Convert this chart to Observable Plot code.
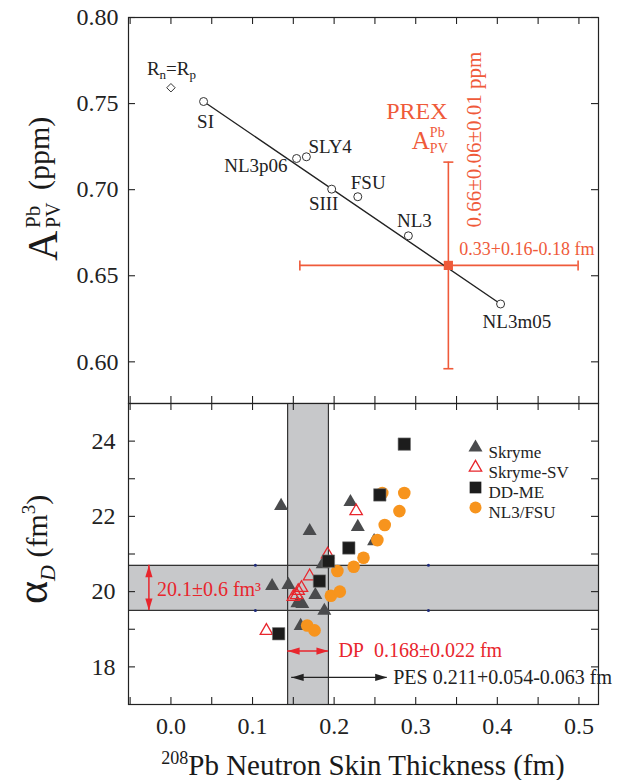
<!DOCTYPE html>
<html>
<head>
<meta charset="utf-8">
<script src="https://cdn.jsdelivr.net/npm/d3@7"></script>
<script src="https://cdn.jsdelivr.net/npm/@observablehq/plot@0.6"></script>
<style>
html,body{margin:0;padding:0;background:#fff;}
#chart{width:626px;}
#chart svg{display:block;}
</style>
</head>
<body>
<div id="chart"></div>
<script>
// ---------------- data: top panel (A_PV vs neutron skin) ----------------
const modelNames = ["SI","NL3p06","SLY4","SIII","FSU","NL3","NL3m05"];
const modelSkin  = [0.040,0.154,0.166,0.197,0.229,0.291,0.404];
const modelApv   = [0.7512,0.7181,0.7191,0.7003,0.6959,0.6732,0.6336];
const equalRadiiSkin = [0.0];
const equalRadiiApv  = [0.7592];
const fitSkin = [0.040,0.404];
const fitApv  = [0.7512,0.6336];
const prexSkin = [0.340];
const prexSkinLow = [0.158];
const prexSkinHigh = [0.499];
const prexApv = [0.656];
const prexApvLow = [0.596];
const prexApvHigh = [0.716];
const apvTicks = [0.60,0.65,0.70,0.75,0.80];

// ---------------- data: bottom panel (alpha_D vs neutron skin) ----------------
const skyrmeSkin  = [0.124,0.135,0.144,0.155,0.161,0.159,0.170,0.177,0.186,0.188,0.220,0.229,0.249];
const skyrmeAlpha = [20.15,22.28,20.18,19.69,19.67,19.09,21.61,19.91,20.73,19.49,22.38,21.72,21.34];
const skyrmeSVSkin  = [0.227,0.192,0.170,0.160,0.156,0.154,0.150,0.117];
const skyrmeSVAlpha = [22.14,20.99,20.41,20.10,20.02,19.91,19.86,18.96];
const ddmeSkin  = [0.286,0.256,0.218,0.193,0.182,0.132];
const ddmeAlpha = [23.92,22.57,21.16,20.81,20.28,18.88];
const nl3Skin  = [0.259,0.286,0.280,0.262,0.253,0.236,0.224,0.204,0.196,0.207,0.167,0.176];
const nl3Alpha = [22.62,22.62,22.14,21.77,21.37,20.90,20.66,20.55,19.89,20.00,19.10,18.97];
const seriesNames = ["Skryme","Skryme-SV","DD-ME","NL3/FSU"];
const skinTicks = [0.0,0.1,0.2,0.3,0.4,0.5];
const skinMinorTicks = [-0.05,0.0,0.05,0.10,0.15,0.20,0.25,0.30,0.35,0.40,0.45,0.50];
const alphaTicks = [18,20,22,24];
const alphaMinorTicks = [18,19,20,21,22,23,24];
const dpBand = [0.143,0.193];
const alphaBand = [19.5,20.7];
const alphaCenter = [20.1];
const alphaArrowSkin = [-0.027];
const dpArrowAlpha = [18.42];
const pesRange = [0.148,0.265];
const pesArrowAlpha = [17.72];
const markerDotSkin = [0.1035,0.3156];
const alphaLabel = "20.1±0.6 fm³";
const dpLabel = "DP\u00a0\u00a00.168±0.022 fm";
const pesLabel = "PES 0.211+0.054-0.063 fm";
const prexSkinLabel = "0.33+0.16-0.18 fm";
const prexApvLabel = "0.66±0.06±0.01 ppm";

// ---------------- layout / style ----------------
const serif = "'Liberation Serif','Times New Roman',Times,serif";
const W = 626, ML = 128, MR = 28;
const skinDomain = [-0.052, 0.524];
const apvDomain = [0.5758, 0.80];
const alphaDomain = [17, 25];
const prexColor = "#ef5a3a";
const red = "#e8262d";
const ink = "#222";
const bandGray = "#c7c8ca";
const frameW = W - ML - MR;
const topH = 386, botH = 301, tickLen = 7;

const capSymbol = {draw(c){ c.moveTo(-5,0); c.lineTo(5,0); }};
const headSymbol = {draw(c){ c.moveTo(0,0); c.lineTo(-12,-3.6); c.lineTo(-12,3.6); c.closePath(); }};

const labelPlacement = {
  SI:     {dx: 2,  dy: 20, anchor: "middle"},
  NL3p06: {dx: -9, dy: 7,  anchor: "end"},
  SLY4:   {dx: 2,  dy: -10,anchor: "start"},
  SIII:   {dx: -8, dy: 15, anchor: "middle"},
  FSU:    {dx: -7, dy: -14,anchor: "start"},
  NL3:    {dx: 6,  dy: -15,anchor: "middle"},
  NL3m05: {dx: -18,dy: 18, anchor: "start"}
};

const topRows = modelNames.map((name,i)=>({name, skin: modelSkin[i], apv: modelApv[i]}));
const fitRows = fitSkin.map((s,i)=>({skin: s, apv: fitApv[i]}));
const eqRows = equalRadiiSkin.map((s,i)=>({skin: s, apv: equalRadiiApv[i]}));
const prexRows = prexSkin.map((s,i)=>({skin: s, lo: prexSkinLow[i], hi: prexSkinHigh[i], apv: prexApv[i], apvLo: prexApvLow[i], apvHi: prexApvHigh[i]}));

function frameTicks(xVals, yVals, h) {
  return [
    Plot.tickX(xVals, {x: d=>d, insetTop: h - tickLen, stroke: ink, strokeWidth: 1.1}),
    Plot.tickX(xVals, {x: d=>d, insetBottom: h - tickLen, stroke: ink, strokeWidth: 1.1}),
    Plot.tickY(yVals, {y: d=>d, insetRight: frameW - tickLen, stroke: ink, strokeWidth: 1.1}),
    Plot.tickY(yVals, {y: d=>d, insetLeft: frameW - tickLen, stroke: ink, strokeWidth: 1.1})
  ];
}

const topPlot = Plot.plot({
  width: W, height: 403, marginLeft: ML, marginRight: MR, marginTop: 17, marginBottom: 0,
  style: {fontFamily: serif, fontSize: "19px", color: ink, background: "#fff", overflow: "visible"},
  x: {domain: skinDomain, axis: null},
  y: {domain: apvDomain, axis: null},
  marks: [
    Plot.ruleY(prexRows, {y: "apv", x1: "lo", x2: "hi", stroke: prexColor, strokeWidth: 1.6}),
    Plot.ruleX(prexRows, {x: "skin", y1: "apvLo", y2: "apvHi", stroke: prexColor, strokeWidth: 1.6}),
    Plot.dot(prexRows, {x: "lo", y: "apv", symbol: capSymbol, rotate: 90, stroke: prexColor, strokeWidth: 1.6, fill: "none"}),
    Plot.dot(prexRows, {x: "hi", y: "apv", symbol: capSymbol, rotate: 90, stroke: prexColor, strokeWidth: 1.6, fill: "none"}),
    Plot.dot(prexRows, {x: "skin", y: "apvLo", symbol: capSymbol, stroke: prexColor, strokeWidth: 1.6, fill: "none"}),
    Plot.dot(prexRows, {x: "skin", y: "apvHi", symbol: capSymbol, stroke: prexColor, strokeWidth: 1.6, fill: "none"}),
    Plot.line(fitRows, {x: "skin", y: "apv", stroke: ink, strokeWidth: 1.4}),
    Plot.dot(prexRows, {x: "skin", y: "apv", symbol: "square", r: 5.2, fill: prexColor, stroke: "none"}),
    Plot.dot(topRows, {x: "skin", y: "apv", r: 4, fill: "white", stroke: "#333", strokeWidth: 1}),
    Plot.dot(eqRows, {x: "skin", y: "apv", symbol: "diamond2", r: 3.8, fill: "white", stroke: "#333", strokeWidth: 1}),
    ...modelNames.map(n => Plot.text(topRows.filter(d => d.name === n), {
      x: "skin", y: "apv", text: "name", dx: labelPlacement[n].dx, dy: labelPlacement[n].dy,
      textAnchor: labelPlacement[n].anchor, fontSize: 19, fill: ink
    })),
    Plot.text(prexRows, {x: "skin", y: "apv", text: () => prexSkinLabel, dx: 11, dy: -16, textAnchor: "start", fill: prexColor, fontSize: 18}),
    Plot.frame({stroke: ink, strokeWidth: 1.2}),
    ...frameTicks(skinMinorTicks, apvTicks, topH),
    Plot.axisY({ticks: apvTicks, tickSize: 0, tickPadding: 10, tickFormat: d3.format(".2f"), fontSize: 24, label: null, fill: ink})
  ]
});

const mk = (xs, ys) => xs.map((x,i)=>({skin: x, alpha: ys[i]}));
const skyrmeRows = mk(skyrmeSkin, skyrmeAlpha);
const skyrmeSVRows = mk(skyrmeSVSkin, skyrmeSVAlpha);
const ddmeRows = mk(ddmeSkin, ddmeAlpha);
const nl3Rows = mk(nl3Skin, nl3Alpha);
const vBandRows = [{lo: dpBand[0], hi: dpBand[1], y1: alphaDomain[0], y2: alphaDomain[1]}];
const hBandRows = [{lo: alphaBand[0], hi: alphaBand[1], x1: skinDomain[0], x2: skinDomain[1]}];
const alphaArrowRows = [{x: alphaArrowSkin[0], lo: alphaBand[0], hi: alphaBand[1], mid: alphaCenter[0]}];
const dpRows = [{lo: dpBand[0], hi: dpBand[1], y: dpArrowAlpha[0]}];
const pesRows = [{lo: pesRange[0], hi: pesRange[1], y: pesArrowAlpha[0]}];
const navyRows = markerDotSkin.flatMap(s => alphaBand.map(a => ({skin: s, alpha: a})));

const legendStyle = [
  {symbol: "triangle", r: 5.2, fill: "#4a4b4d", stroke: "none"},
  {symbol: "triangle", r: 4.6, fill: "none", stroke: red},
  {symbol: "square", r: 6.6, fill: "#1c1c1c", stroke: "none"},
  {symbol: "circle", r: 6, fill: "#f7941d", stroke: "none"}
];
const legendMarks = seriesNames.flatMap((name, i) => [
  Plot.dot([name], {frameAnchor: "top-left", dx: 347, dy: 44 + i * 20, symbol: legendStyle[i].symbol, r: legendStyle[i].r,
    fill: legendStyle[i].fill, stroke: legendStyle[i].stroke, strokeWidth: 1.3}),
  Plot.text([name], {frameAnchor: "top-left", dx: 360, dy: 42 + i * 20, text: d => d, textAnchor: "start", fontSize: 17, fill: ink})
]);

const bottomPlot = Plot.plot({
  width: W, height: 377, marginLeft: ML, marginRight: MR, marginTop: 0, marginBottom: 76,
  style: {fontFamily: serif, fontSize: "19px", color: ink, background: "#fff", overflow: "visible"},
  x: {domain: skinDomain, axis: null},
  y: {domain: alphaDomain, axis: null},
  marks: [
    Plot.rect(vBandRows, {x1: "lo", x2: "hi", y1: "y1", y2: "y2", fill: bandGray}),
    Plot.rect(hBandRows, {y1: "lo", y2: "hi", x1: "x1", x2: "x2", fill: bandGray}),
    Plot.ruleX(dpBand, {x: d=>d, stroke: "#333", strokeWidth: 1.2}),
    Plot.ruleY(alphaBand, {y: d=>d, stroke: "#333", strokeWidth: 1.2}),
    Plot.dot(navyRows, {x: "skin", y: "alpha", r: 1.5, fill: "#1d2a7a", stroke: "none"}),
    Plot.dot(skyrmeRows, {x: "skin", y: "alpha", symbol: "triangle", r: 5.2, fill: "#4a4b4d", stroke: "none"}),
    Plot.dot(skyrmeSVRows, {x: "skin", y: "alpha", symbol: "triangle", r: 4.6, fill: "none", stroke: red, strokeWidth: 1.3}),
    Plot.dot(nl3Rows, {x: "skin", y: "alpha", r: 6.3, fill: "#f7941d", stroke: "none"}),
    Plot.dot(ddmeRows, {x: "skin", y: "alpha", symbol: "square", r: 7.0, fill: "#1c1c1c", stroke: "#777", strokeWidth: 0.6}),
    // alpha_D arrow
    Plot.ruleX(alphaArrowRows, {x: "x", y1: "lo", y2: "hi", stroke: red, strokeWidth: 1.5}),
    Plot.dot(alphaArrowRows, {x: "x", y: "hi", symbol: headSymbol, rotate: -90, fill: red, stroke: "none"}),
    Plot.dot(alphaArrowRows, {x: "x", y: "lo", symbol: headSymbol, rotate: 90, fill: red, stroke: "none"}),
    Plot.text(alphaArrowRows, {x: "x", y: "mid", text: () => alphaLabel, dx: 8, dy: 2, textAnchor: "start", fill: red, fontSize: 20}),
    // DP arrow
    Plot.ruleY(dpRows, {y: "y", x1: "lo", x2: "hi", stroke: red, strokeWidth: 1.5}),
    Plot.dot(dpRows, {x: "lo", y: "y", symbol: headSymbol, rotate: 180, fill: red, stroke: "none"}),
    Plot.dot(dpRows, {x: "hi", y: "y", symbol: headSymbol, rotate: 0, fill: red, stroke: "none"}),
    Plot.text(dpRows, {x: "hi", y: "y", text: () => dpLabel, dx: 10, textAnchor: "start", fill: red, fontSize: 20}),
    // PES arrow
    Plot.ruleY(pesRows, {y: "y", x1: "lo", x2: "hi", stroke: ink, strokeWidth: 1.3}),
    Plot.dot(pesRows, {x: "lo", y: "y", symbol: headSymbol, rotate: 180, fill: ink, stroke: "none"}),
    Plot.dot(pesRows, {x: "hi", y: "y", symbol: headSymbol, rotate: 0, fill: ink, stroke: "none"}),
    Plot.text(pesRows, {x: "hi", y: "y", text: () => pesLabel, dx: 6, textAnchor: "start", fill: ink, fontSize: 20}),
    ...legendMarks,
    Plot.frame({stroke: ink, strokeWidth: 1.2}),
    ...frameTicks(skinMinorTicks, alphaMinorTicks, botH),
    Plot.axisY({ticks: alphaTicks, tickSize: 0, tickPadding: 13, fontSize: 24, label: null, fill: ink}),
    Plot.axisX({ticks: skinTicks, tickSize: 0, tickPadding: 12, tickFormat: d3.format(".1f"), fontSize: 24, label: null, fill: ink})
  ]
});

const chart = document.getElementById("chart");
chart.append(topPlot, bottomPlot);

// ---------- rich text (super/subscripts) positioned through the plot scales ----------
const sxT = topPlot.scale("x"), syT = topPlot.scale("y");
const topSvg = d3.select(topPlot);

const tg = topSvg.append("g").attr("transform", "translate(57,261) rotate(-90)")
  .attr("font-family", serif).attr("fill", "#1a1a1a").attr("text-anchor", "start");
tg.append("text").attr("font-size", 42).text("A");
tg.append("text").attr("x", 33).attr("y", -17).attr("font-size", 21).text("Pb");
tg.append("text").attr("x", 33).attr("y", 3).attr("font-size", 20).text("PV");
tg.append("text").attr("x", 71).attr("y", -8).attr("font-size", 30).text("(ppm)");

const rx = sxT.apply(equalRadiiSkin[0]), ry = syT.apply(equalRadiiApv[0]);
const rt = topSvg.append("text").attr("x", rx + 1).attr("y", ry - 12).attr("text-anchor", "middle")
  .attr("font-family", serif).attr("font-size", 19).attr("fill", ink);
rt.append("tspan").text("R");
rt.append("tspan").attr("font-size", 13).attr("dy", 4).text("n");
rt.append("tspan").attr("dy", -4).text("=R");
rt.append("tspan").attr("font-size", 13).attr("dy", 4).text("p");

const px = sxT.apply(prexSkin[0]), pyTop = syT.apply(prexApvHigh[0]);
topSvg.append("text").attr("x", px - 31).attr("y", pyTop - 43).attr("text-anchor", "middle")
  .attr("font-family", serif).attr("font-size", 24).attr("fill", prexColor).text("PREX");
const ag = topSvg.append("g").attr("font-family", serif).attr("fill", prexColor).attr("text-anchor", "start");
ag.append("text").attr("x", px - 36).attr("y", pyTop - 13).attr("font-size", 25).text("A");
ag.append("text").attr("x", px - 18).attr("y", pyTop - 25).attr("font-size", 14).text("Pb");
ag.append("text").attr("x", px - 18).attr("y", pyTop - 9).attr("font-size", 14).text("PV");
topSvg.append("text").attr("transform", `translate(${px + 33},${pyTop + 66}) rotate(-90)`)
  .attr("text-anchor", "start").attr("font-family", serif).attr("font-size", 21).attr("fill", prexColor).text(prexApvLabel);

const bSvg = d3.select(bottomPlot);
const bg = bSvg.append("g").attr("transform", "translate(47,201) rotate(-90)")
  .attr("font-family", serif).attr("fill", "#1a1a1a").attr("text-anchor", "start");
const bt = bg.append("text").attr("font-size", 30);
bt.append("tspan").attr("font-size", 44).text("α");
bt.append("tspan").attr("font-size", 22).attr("font-style", "italic").attr("dy", 8).text("D");
bt.append("tspan").attr("dy", -8).text(" (fm");
bt.append("tspan").attr("font-size", 19).attr("dy", -12).text("3");
bt.append("tspan").attr("dy", 12).text(")");

const xt = bSvg.append("text").attr("x", ML + frameW / 2).attr("y", 372).attr("text-anchor", "middle")
  .attr("font-family", serif).attr("font-size", 29).attr("fill", "#1a1a1a");
xt.append("tspan").attr("font-size", 18).attr("dy", -11).text("208");
xt.append("tspan").attr("dy", 11).text("Pb Neutron Skin Thickness (fm)");
</script>
</body>
</html>
